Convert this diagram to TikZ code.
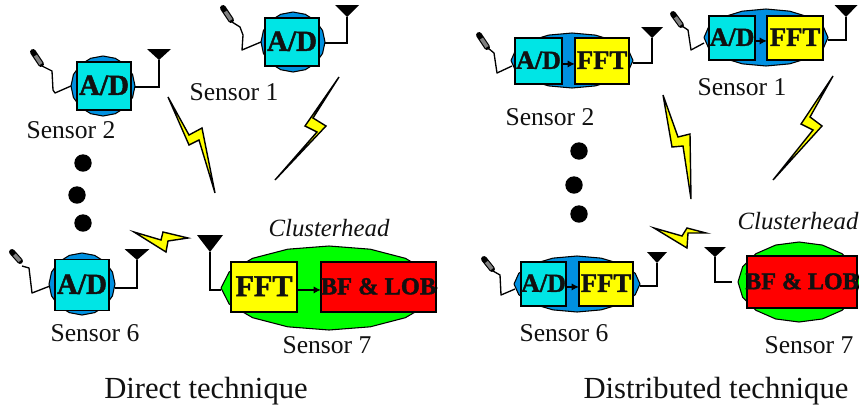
\documentclass[tikz,border=0pt]{standalone}
\usepackage{fontspec}
\setmainfont[BoldFeatures={FakeBold=1.6}]{Liberation Serif}
\usetikzlibrary{arrows.meta,calc}
\definecolor{cy}{HTML}{00E5E5}
\definecolor{bl}{HTML}{0090E0}
\definecolor{ye}{HTML}{FFFF00}
\definecolor{gr}{HTML}{00FF00}
\definecolor{re}{HTML}{FF0000}
\definecolor{ink}{HTML}{111111}
\newcommand\tb[1]{\makebox[0pt][c]{\raisebox{1.2pt}{#1}}}
\newcommand\blob[5]{\draw[blobline,fill=#5] plot[samples=16,domain=0:337.5] ({#1+#3*cos(\x)},{#2+#4*sin(\x)}) -- cycle;}
\newcommand\antenna[5]{\coordinate (#1) at (#2,#3+#5);
  \fill (#2-#4,#3) -- (#2+#4,#3) -- (#1) -- cycle;}
\newcommand\mic[4]{\draw[line width=4.4pt,line cap=round,black] (#1,#2) -- (#3,#4);
  \draw[line width=2.7pt,gray] ($(#1,#2)!0.3!(#3,#4)$) -- (#3,#4);}
\newcommand\bolt[1]{\draw[boltline] #1 -- cycle;}
\newcommand\spot[3]{\fill[black] (#2,#3) circle (8.7);}
\tikzset{
  x=0.75pt,y=-0.75pt,
  px/.style 2 args={minimum width=#1*0.75pt,minimum height=#2*0.75pt},
  boxbase/.style={draw=black,line width=1.15pt,inner sep=0pt,outer sep=0pt,text=ink,font=\bfseries},
  cyanbox/.style={boxbase,fill=cy},
  yellowbox/.style={boxbase,fill=ye},
  redbox/.style={boxbase,fill=re},
  label/.style={inner sep=0pt,text=ink,font=\fontsize{19.2pt}{22pt}\selectfont},
  headlabel/.style={inner sep=0pt,text=ink,font=\fontsize{18.6pt}{22pt}\selectfont\itshape},
  title/.style={inner sep=0pt,text=ink,font=\fontsize{23pt}{26pt}\selectfont},
  blobline/.style={draw=black,line width=0.8pt,line join=round},
  boltline/.style={draw=black,fill=ye,line width=1.05pt,line join=miter},
  wire/.style={draw=black,line width=1pt,line join=round},
  feed/.style={draw=black,line width=1.15pt},
  flow/.style={draw=black,line width=1.15pt,-{Latex[length=5.5pt,width=5.5pt]}}
}
\begin{document}
\begin{tikzpicture}
\useasboundingbox (0,0) rectangle (859,411);
\fill[white] (0,0) rectangle (859,411);
% ---------- Direct technique ----------
% Sensor 1
\blob{293}{42}{32}{30}{bl}
\coordinate (l1in) at (261,42); \coordinate (l1out) at (325,43);
\node[cyanbox,px={54}{48},font=\fontsize{21.8pt}{24pt}\selectfont\bfseries] (l1ad) at (292,42) {\tb{A/D}};
\mic{223}{8}{231}{20}
\coordinate (l1m) at (232,22);
\draw[wire] (l1m) -- (240,27) -- (243,35) -- (242,50) -- (l1in);
\antenna{l1a}{347}{5}{12}{12}
\draw[feed] (l1a) |- (l1out);
\node[label] (l1t) at (234,92) {Sensor 1};
% Sensor 2
\blob{103}{86}{32}{30}{bl}
\coordinate (l2in) at (71,86); \coordinate (l2out) at (135,87);
\node[cyanbox,px={54}{48},font=\fontsize{21.8pt}{24pt}\selectfont\bfseries] (l2ad) at (104,86) {\tb{A/D}};
\mic{33}{52}{41}{64}
\coordinate (l2m) at (42,66);
\draw[wire] (l2m) -- (52,71) -- (53,90) -- (55,93) -- (l2in);
\antenna{l2a}{159}{49}{12}{11}
\draw[feed] (l2a) |- (l2out);
\node[label] (l2t) at (71,130) {Sensor 2};
% dots
\spot{a}{83}{163}\spot{b}{77}{195}\spot{c}{83}{223}
% bolts
\bolt{(168,97) -- (189,145) -- (199,140) -- (215,193) -- (202,128) -- (189,135)}
\bolt{(339,77) -- (305,126) -- (317,132) -- (275,180) -- (326,126) -- (313,118)}
\bolt{(134,232) -- (166,252) -- (168,241) -- (188,238) -- (163,232) -- (161,240)}
% Sensor 6
\blob{82}{284}{33}{31}{bl}
\coordinate (l6in) at (50,286); \coordinate (l6out) at (115,288);
\node[cyanbox,px={54}{51},font=\fontsize{21.8pt}{24pt}\selectfont\bfseries] (l6ad) at (82,285) {\tb{A/D}};
\mic{12}{252}{20}{261}
\coordinate (l6m) at (22,266);
\draw[wire] (l6m) -- (29,268) -- (32,293) -- (l6in);
\antenna{l6a}{137}{249}{12.5}{11}
\draw[feed] (l6a) |- (l6out);
\node[label] (l6t) at (95,333) {Sensor 6};
% Clusterhead 7
\blob{329}{288}{108}{42}{gr}
\coordinate (l7in) at (221,290);
\node[yellowbox,px={66}{50},font=\fontsize{22.6pt}{25pt}\selectfont\bfseries] (l7fft) at (264,287) {\tb{FFT}};
\node[redbox,px={115}{50},font=\fontsize{18.3pt}{21pt}\selectfont\bfseries] (l7bf) at (378.5,287) {\tb{BF \& LOB}};
\draw[flow] ([yshift=-2.2pt]l7fft.east) -- ([yshift=-2.2pt]l7bf.west);
\antenna{l7a}{210}{235}{13}{17}
\draw[feed] (l7a) |- (l7in);
\node[headlabel] (l7h) at (329,228) {Clusterhead};
\node[label] (l7t) at (327,345) {Sensor 7};
\node[title] (ldir) at (206,391) {Direct technique};
% ---------- Distributed technique ----------
% Sensor 1
\blob{766}{37.5}{62}{28.5}{bl}
\coordinate (r1in) at (704,43); \coordinate (r1out) at (828,40);
\node[cyanbox,px={46}{44},font=\fontsize{19.5pt}{22pt}\selectfont\bfseries] (r1ad) at (732,38) {\tb{A/D}};
\node[yellowbox,px={56}{44},font=\fontsize{20pt}{22pt}\selectfont\bfseries] (r1fft) at (795,38) {\tb{FFT}};
\draw[flow] ([yshift=-2.2pt]r1ad.east) -- ([yshift=-2.2pt]r1fft.west);
\mic{673}{14}{681}{25}
\coordinate (r1m) at (682,26);
\draw[wire] (r1m) -- (688,30) -- (691,50) -- (r1in);
\antenna{r1a}{846}{5}{11.5}{12}
\draw[feed] (r1a) |- (r1out);
\node[label] (r1t) at (742,87) {Sensor 1};
% Sensor 2
\blob{572}{60.5}{61}{27.5}{bl}
\coordinate (r2in) at (512,66); \coordinate (r2out) at (633,63);
\node[cyanbox,px={47}{46},font=\fontsize{19.5pt}{22pt}\selectfont\bfseries] (r2ad) at (538.5,61) {\tb{A/D}};
\node[yellowbox,px={54}{46},font=\fontsize{20pt}{22pt}\selectfont\bfseries] (r2fft) at (602,61) {\tb{FFT}};
\draw[flow] ([yshift=-2.2pt]r2ad.east) -- ([yshift=-2.2pt]r2fft.west);
\mic{479}{35}{487}{47}
\coordinate (r2m) at (488,48);
\draw[wire] (r2m) -- (494,53) -- (497,73) -- (r2in);
\antenna{r2a}{652}{27}{11}{11}
\draw[feed] (r2a) |- (r2out);
\node[label] (r2t) at (550,117) {Sensor 2};
% dots
\spot{d}{579}{151}\spot{e}{574}{185}\spot{f}{579}{214}
% bolts
\bolt{(663,95) -- (672,147) -- (683,146) -- (691,199) -- (690,134) -- (678,137)}
\bolt{(833,76) -- (801,124) -- (813,130) -- (773,180) -- (822,126) -- (810,117)}
\bolt{(654,228) -- (687,248) -- (688,233) -- (706,233) -- (687,228) -- (682,236)}
% Sensor 6
\blob{577}{284}{63}{28}{bl}
\coordinate (r6in) at (515,289); \coordinate (r6out) at (640,286);
\node[cyanbox,px={45}{44},font=\fontsize{19.5pt}{22pt}\selectfont\bfseries] (r6ad) at (543.5,284) {\tb{A/D}};
\node[yellowbox,px={54}{44},font=\fontsize{20pt}{22pt}\selectfont\bfseries] (r6fft) at (606,284) {\tb{FFT}};
\draw[flow] ([yshift=-2.2pt]r6ad.east) -- ([yshift=-2.2pt]r6fft.west);
\mic{484}{259}{492}{269}
\coordinate (r6m) at (493,271);
\draw[wire] (r6m) -- (500,275) -- (501,295) -- (r6in);
\antenna{r6a}{657}{252}{10}{11}
\draw[feed] (r6a) |- (r6out);
\node[label] (r6t) at (564,333) {Sensor 6};
% Clusterhead 7
\blob{799}{282}{61}{40}{gr}
\coordinate (r7in) at (732,282);
\node[redbox,px={110}{52},font=\fontsize{18pt}{21pt}\selectfont\bfseries] (r7bf) at (802,282) {\tb{BF \& LOB}};
\antenna{r7a}{715}{247}{11}{10}
\draw[feed] (r7a) |- (r7in);
\node[headlabel] (r7h) at (798,221) {Clusterhead};
\node[label] (r7t) at (809,345) {Sensor 7};
\node[title] (rdir) at (716,391) {Distributed technique};
\end{tikzpicture}
\end{document}
